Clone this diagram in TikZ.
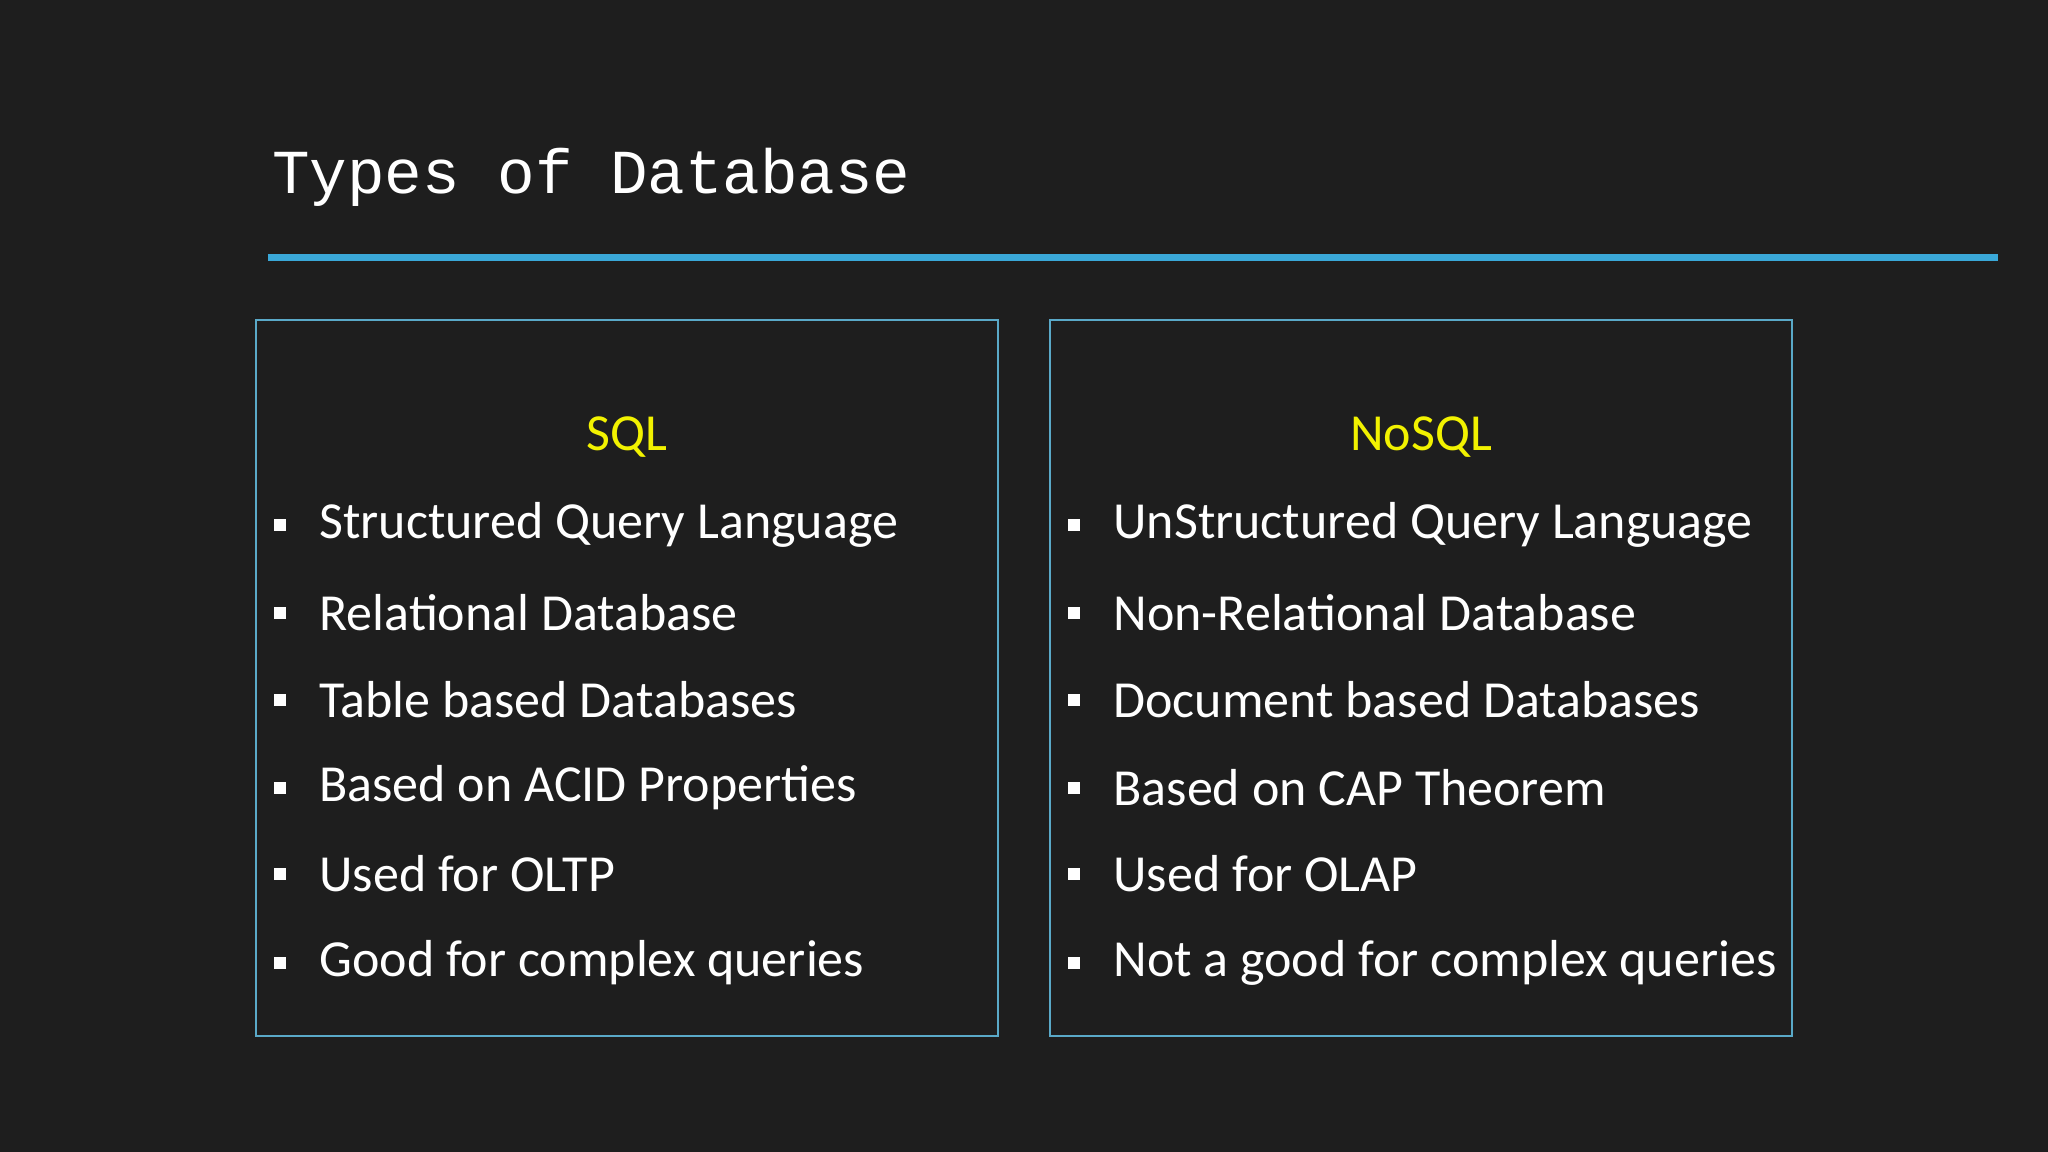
\documentclass[tikz,border=0pt]{standalone}
\usepackage{fontspec}
\setmainfont{Carlito}
\setmonofont{Liberation Mono}
\usepackage{tikz}
\definecolor{board}{HTML}{1E1E1E}
\definecolor{lineblue}{HTML}{3AA8D8}
\definecolor{boxblue}{HTML}{5AA9C8}
\definecolor{headyellow}{HTML}{F2F200}
\tikzset{
  item/.style={anchor=west, inner sep=0pt, text=white, font=\fontsize{14.8}{17}\selectfont},
  head/.style={inner sep=0pt, text=headyellow, font=\fontsize{14.8}{17}\selectfont},
  bullet/.style={fill=white, minimum size=0.12cm, inner sep=0pt},
  panel/.style={draw=boxblue, line width=0.6pt}
}
\begin{document}
\begin{tikzpicture}[x=0.013061cm, y=-0.013061cm]
    \fill [board] (0,0) rectangle (1568,882);
    \useasboundingbox (0,0) rectangle (1568,882);
    % title
    \node (title) [anchor=base west, inner sep=0pt, text=white, font=\ttfamily\fontsize{17.8}{20}\selectfont] at (208,148) {Types of Database};
    \draw [lineblue, line width=2pt] (205,197) -- (1530,197);
    % panels
    \draw [panel] (196,245) rectangle (764,793);
    \draw [panel] (804,245) rectangle (1372,793);
    \node (sql) [head] at (480,335) {SQL};
    \node (nosql) [head] at (1088,335) {NoSQL};
    % left list
    \foreach \y/\t [count=\i] in {402/Structured Query Language, 469/Relational Database,
        536/Table based Databases, 603/Based on ACID Properties, 669/Used for OLTP,
        737/Good for complex queries} {
      \node (lb\i) [bullet] at (214,\y) {};
      \node (l\i) [item] at (244,\y) {\t};
    }
    % right list
    \foreach \y/\t [count=\i] in {402/UnStructured Query Language, 469/Non-Relational Database,
        536/Document based Databases, 603/Based on CAP Theorem, 669/Used for OLAP,
        737/Not a good for complex queries} {
      \node (rb\i) [bullet] at (822,\y) {};
      \node (r\i) [item] at (852,\y) {\t};
    }
\end{tikzpicture}
\end{document}
